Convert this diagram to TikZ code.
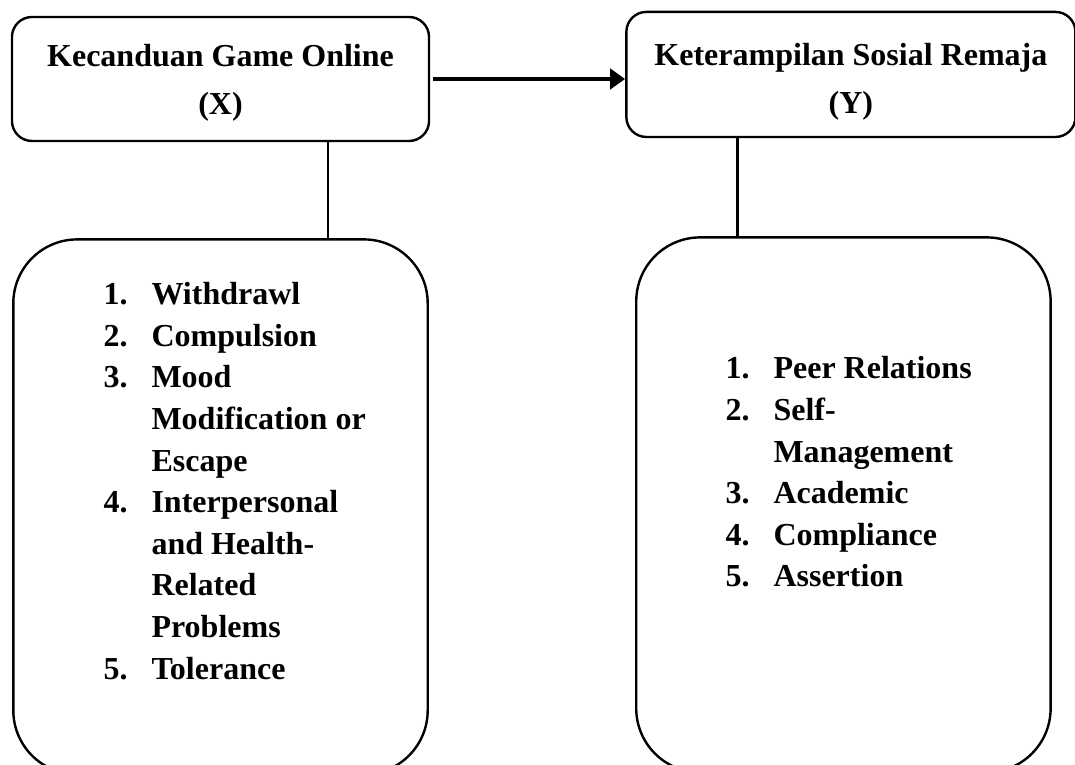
\documentclass[tikz,border=0pt]{standalone}
\usepackage{fontspec}
\setmainfont{Liberation Serif}
\usetikzlibrary{positioning, arrows.meta, calc}

\newcommand{\itemnum}[1]{\makebox[18pt][l]{#1}}
\newcommand{\itemcont}{\hspace*{18pt}}
\newcommand{\toppad}[1]{\rule{0pt}{#1}}

\begin{document}
\begin{tikzpicture}[x=0.375pt, y=-0.375pt,
  varbox/.style={draw, rounded corners=7.5pt, line width=0.9pt, align=center, inner sep=0pt,
                font=\fontsize{12}{18}\selectfont\bfseries},
  dimbox/.style={draw, rounded corners=24pt, line width=0.9pt,
                minimum width=155.4pt, minimum height=200.6pt},
  itemlist/.style={align=left, inner sep=0pt, font=\fontsize{12}{15.6}\selectfont\bfseries},
  arr/.style={-{Triangle[length=5.6pt, width=7.5pt]}, line width=1.5pt},
  link/.style={line width=1.1pt},
]
\useasboundingbox (0,0) rectangle (1075,765);
\clip (0,0) rectangle (1075,765);

% Variables
\node[varbox, minimum width=156.4pt, minimum height=46.5pt] (varx) at (220.5,79)
  {\toppad{11.5pt}Kecanduan Game Online\\(X)};
\node[varbox, minimum width=168.4pt, minimum height=46.9pt, right=73.1pt of varx, yshift=1.7pt] (vary)
  {\toppad{13.5pt}Keterampilan Sosial Remaja\\(Y)};

% Indicator boxes
\node[dimbox, below=36pt of varx] (dimx) {};
\node[dimbox, below=36.75pt of vary, xshift=-2.8pt] (dimy) {};

% Indicator lists
\node[itemlist, anchor=west] (listx) at (103,481) {%
  \itemnum{1.}Withdrawl\\
  \itemnum{2.}Compulsion\\
  \itemnum{3.}Mood\\
  \itemcont Modification or\\
  \itemcont Escape\\
  \itemnum{4.}Interpersonal\\
  \itemcont and Health-\\
  \itemcont Related\\
  \itemcont Problems\\
  \itemnum{5.}Tolerance};
\node[itemlist, anchor=west] (listy) at (725,472) {%
  \itemnum{1.}Peer Relations\\
  \itemnum{2.}Self-\\
  \itemcont Management\\
  \itemnum{3.}Academic\\
  \itemnum{4.}Compliance\\
  \itemnum{5.}Assertion};

% Connectors
\coordinate (xdrop) at ($(varx.south)+(40.3pt,0)$);
\coordinate (ydrop) at ($(vary.south)+(-42.6pt,0)$);
\draw[arr, shorten <=1pt] (varx.east) -- (varx.east -| vary.west);
\draw[link] (xdrop) -- (xdrop |- dimx.north);
\draw[link] (ydrop) -- (ydrop |- dimy.north);

\end{tikzpicture}
\end{document}
